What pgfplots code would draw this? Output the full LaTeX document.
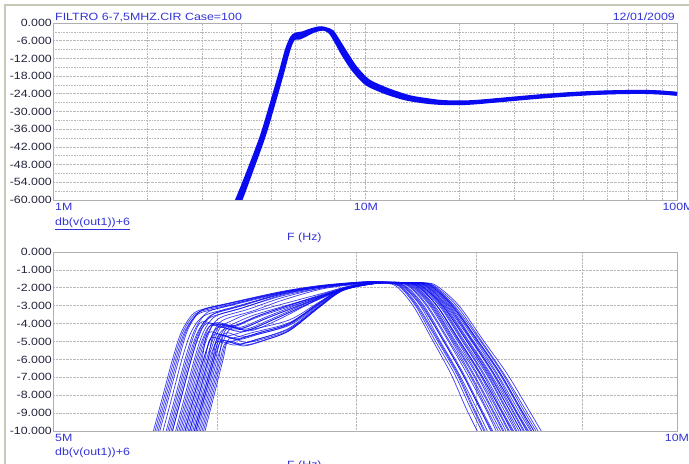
\documentclass[border=0pt]{standalone}
\usepackage{fontspec}
\setmainfont[FakeStretch=1.18]{Liberation Sans}
\usepackage{pgfplots}
\pgfplotsset{compat=1.18}

\definecolor{curveblue}{RGB}{10,10,240}
\definecolor{txtblue}{RGB}{50,50,215}
\definecolor{ticktxt}{RGB}{35,35,60}
\definecolor{gridgray}{RGB}{185,185,185}
\definecolor{framegray}{RGB}{175,175,175}
\definecolor{winedge}{RGB}{200,200,185}

\newcommand{\lbl}{\fontsize{10.5bp}{12bp}\selectfont}

\pgfplotsset{
  probe/.style={
    scale only axis,
    width=624bp,
    anchor=south west,
    axis line style={framegray, line width=0.6bp},
    major tick length=0pt, minor tick length=0pt,
    xticklabels={},
    grid style={gridgray, densely dotted, line width=0.6bp},
    minor grid style={gridgray, densely dotted, line width=0.6bp},
    yticklabel style={font=\lbl, text=ticktxt, anchor=east, inner sep=0pt, xshift=-1bp},
  },
  mc/.style={curveblue, line width=0.7bp, opacity=0.8, smooth, tension=0.5},
}

\begin{document}
\begin{tikzpicture}
\useasboundingbox (0,0) rectangle (689bp,464bp);
\draw[winedge, line width=1.2bp] (5bp,0) -- (5bp,459bp) -- (689bp,459bp);

% ---------- full sweep, 1 MHz .. 100 MHz ----------
\begin{axis}[xmode=log, probe,
  at={(53bp,264bp)}, height=177bp,
  xmin=1, xmax=100, ymin=-60, ymax=0,
  xtick={1,10,100},
  minor xtick={2,3,4,5,6,7,8,9,20,30,40,50,60,70,80,90},
  ytick={-60,-54,-48,-42,-36,-30,-24,-18,-12,-6,0},
  yticklabels={-60.000,-54.000,-48.000,-42.000,-36.000,-30.000,-24.000,-18.000,-12.000,-6.000,0.000},
  minor ytick={-57,-51,-45,-39,-33,-27,-21,-15,-9,-3},
  grid=both,
]
\addplot[curveblue, line width=3.8bp, smooth, tension=0.5] coordinates {
 (3.75,-63) (3.89,-60) (4.28,-49) (4.68,-38) (5.03,-27) (5.34,-17.5)
 (5.62,-9) (5.83,-5) (6.0,-3.9) (6.3,-3.5) (6.7,-2.5) (7.1,-1.8)
 (7.4,-1.9) (7.75,-3.2) (8.1,-6.5) (8.5,-10.5) (9.2,-16) (10.1,-20.5)
 (11.2,-22.8) (12.0,-24.0) (13.5,-25.6) (15.4,-26.6) (17.3,-27.1)
 (20,-27.2) (22.2,-27.0) (28.5,-26.0) (36.4,-25.0) (46.4,-24.2)
 (59.3,-23.6) (75.8,-23.4) (88,-23.6) (100,-24.0)};
\addplot[curveblue, line width=3.8bp, smooth, tension=0.5] coordinates {
 (3.85,-63) (3.99,-60) (4.36,-49) (4.75,-38) (5.10,-27) (5.41,-17.5)
 (5.69,-9) (5.90,-5.2) (6.15,-5.0) (6.4,-4.2) (6.8,-2.8) (7.2,-2.0)
 (7.5,-2.1) (7.85,-3.0) (8.2,-6.0) (8.6,-9.5) (9.3,-15) (10.2,-19.5)
 (11.4,-22) (12.5,-23.6) (14,-25.2) (16,-26.2) (18,-26.8) (22,-26.8)
 (28.5,-25.8) (36.4,-24.8) (46.4,-24.0) (59.3,-23.5) (75.8,-23.3)
 (88,-23.5) (100,-24.0)};
\end{axis}

% ---------- passband detail, 5 MHz .. 10 MHz ----------
\begin{axis}[xmode=log, probe,
  at={(53bp,33bp)}, height=179bp,
  xmin=5, xmax=10, ymin=-10, ymax=0,
  xtick={6,7,8,9},
  ytick={-10,-9,-8,-7,-6,-5,-4,-3,-2,-1,0},
  yticklabels={-10.000,-9.000,-8.000,-7.000,-6.000,-5.000,-4.000,-3.000,-2.000,-1.000,0.000},
  grid=major,
]
% sharp knee, flat top
\addplot[mc] coordinates {(5.59,-10)(5.65,-8)(5.71,-6)(5.76,-4.6)(5.81,-3.8)(5.87,-3.3)(6.04,-2.95)(6.45,-2.25)(6.75,-1.9)(7.1,-1.68)(7.27,-1.72)(7.39,-1.9)(7.54,-3.0)(7.71,-4.9)(7.88,-6.8)(8.03,-8.7)(8.13,-10)};
\addplot[mc] coordinates {(5.60,-10)(5.66,-8)(5.72,-6)(5.77,-4.6)(5.82,-3.82)(5.88,-3.35)(6.05,-3.0)(6.45,-2.27)(6.75,-1.9)(7.1,-1.68)(7.38,-1.72)(7.50,-1.9)(7.66,-3.0)(7.84,-4.9)(8.03,-6.8)(8.19,-8.7)(8.30,-10)};
\addplot[mc] coordinates {(5.61,-10)(5.67,-8)(5.73,-6)(5.78,-4.6)(5.83,-3.85)(5.89,-3.4)(6.06,-3.05)(6.45,-2.3)(6.75,-1.92)(7.1,-1.7)(7.36,-1.72)(7.48,-1.9)(7.64,-3.0)(7.83,-4.9)(8.01,-6.8)(8.18,-8.7)(8.29,-10)};
\addplot[mc] coordinates {(5.62,-10)(5.68,-8)(5.74,-6)(5.79,-4.55)(5.84,-3.75)(5.90,-3.25)(6.07,-2.9)(6.45,-2.22)(6.75,-1.87)(7.1,-1.66)(7.32,-1.72)(7.44,-1.9)(7.60,-3.0)(7.78,-4.9)(7.95,-6.8)(8.11,-8.7)(8.22,-10)};
\addplot[mc] coordinates {(5.63,-10)(5.69,-8)(5.75,-6)(5.80,-4.5)(5.85,-3.7)(5.91,-3.2)(6.08,-2.85)(6.45,-2.2)(6.75,-1.85)(7.1,-1.65)(7.20,-1.72)(7.32,-1.9)(7.46,-3.0)(7.62,-4.9)(7.78,-6.8)(7.91,-8.7)(8.01,-10)};
\addplot[mc] coordinates {(5.65,-10)(5.71,-8)(5.77,-6)(5.82,-4.65)(5.87,-3.9)(5.93,-3.5)(6.10,-3.1)(6.45,-2.35)(6.75,-1.95)(7.1,-1.7)(7.45,-1.72)(7.57,-1.9)(7.74,-3.0)(7.95,-4.9)(8.15,-6.8)(8.32,-8.7)(8.44,-10)};
\addplot[mc] coordinates {(5.67,-10)(5.73,-8)(5.79,-6)(5.84,-4.6)(5.89,-3.8)(5.95,-3.3)(6.12,-2.9)(6.45,-2.25)(6.75,-1.88)(7.1,-1.66)(7.33,-1.72)(7.45,-1.9)(7.61,-3.0)(7.79,-4.9)(7.97,-6.8)(8.13,-8.7)(8.24,-10)};
\addplot[mc] coordinates {(5.69,-10)(5.75,-8)(5.81,-6)(5.86,-4.7)(5.91,-3.95)(5.97,-3.6)(6.14,-3.2)(6.45,-2.45)(6.75,-2.0)(7.1,-1.72)(7.51,-1.72)(7.63,-1.9)(7.81,-3.0)(8.03,-4.9)(8.24,-6.8)(8.42,-8.7)(8.55,-10)};
\addplot[mc] coordinates {(5.70,-10)(5.76,-8)(5.82,-6)(5.87,-4.65)(5.92,-3.85)(5.98,-3.45)(6.15,-3.05)(6.45,-2.35)(6.75,-1.93)(7.1,-1.7)(7.45,-1.72)(7.57,-1.9)(7.75,-3.0)(7.96,-4.9)(8.16,-6.8)(8.34,-8.7)(8.47,-10)};
\addplot[mc] coordinates {(5.71,-10)(5.77,-8)(5.83,-6)(5.88,-4.6)(5.93,-3.85)(5.99,-3.4)(6.16,-3.0)(6.45,-2.3)(6.75,-1.9)(7.1,-1.68)(7.24,-1.72)(7.36,-1.9)(7.50,-3.0)(7.67,-4.9)(7.84,-6.8)(7.98,-8.7)(8.08,-10)};
\addplot[mc] coordinates {(5.73,-10)(5.79,-8)(5.85,-6)(5.90,-4.65)(5.95,-3.9)(6.01,-3.5)(6.18,-3.1)(6.45,-2.4)(6.75,-1.95)(7.1,-1.7)(7.41,-1.72)(7.53,-1.9)(7.70,-3.0)(7.89,-4.9)(8.09,-6.8)(8.26,-8.7)(8.37,-10)};
\addplot[mc] coordinates {(5.76,-10)(5.82,-8)(5.88,-6)(5.93,-4.7)(5.98,-3.95)(6.04,-3.6)(6.21,-3.2)(6.45,-2.55)(6.75,-2.0)(7.1,-1.72)(7.48,-1.72)(7.60,-1.9)(7.78,-3.0)(7.99,-4.9)(8.19,-6.8)(8.37,-8.7)(8.50,-10)};
\addplot[mc] coordinates {(5.79,-10)(5.85,-8)(5.91,-6)(5.96,-4.75)(6.01,-4.0)(6.07,-3.7)(6.24,-3.3)(6.45,-2.7)(6.75,-2.05)(7.1,-1.74)(7.30,-1.72)(7.42,-1.9)(7.57,-3.0)(7.75,-4.9)(7.92,-6.8)(8.08,-8.7)(8.18,-10)};
% knee near -4 dB with a shallow dip
\addplot[mc] coordinates {(5.68,-10)(5.74,-8)(5.80,-6)(5.85,-4.6)(5.90,-3.9)(6.03,-4.05)(6.23,-3.4)(6.75,-2.3)(6.95,-1.9)(7.15,-1.7)(7.39,-1.72)(7.51,-1.9)(7.68,-3.0)(7.87,-4.9)(8.06,-6.8)(8.22,-8.7)(8.34,-10)};
\addplot[mc] coordinates {(5.71,-10)(5.77,-8)(5.83,-6)(5.88,-4.7)(5.93,-4.0)(6.06,-4.15)(6.26,-3.5)(6.75,-2.4)(6.95,-1.95)(7.15,-1.72)(7.54,-1.72)(7.66,-1.9)(7.85,-3.0)(8.06,-4.9)(8.28,-6.8)(8.47,-8.7)(8.60,-10)};
\addplot[mc] coordinates {(5.74,-10)(5.80,-8)(5.86,-6)(5.91,-4.75)(5.96,-4.1)(6.09,-4.25)(6.29,-3.6)(6.75,-2.45)(6.95,-1.98)(7.15,-1.73)(7.22,-1.72)(7.34,-1.9)(7.48,-3.0)(7.64,-4.9)(7.81,-6.8)(7.95,-8.7)(8.05,-10)};
\addplot[mc] coordinates {(5.75,-10)(5.81,-8)(5.87,-6)(5.92,-4.7)(5.97,-4.0)(6.10,-4.15)(6.30,-3.5)(6.75,-2.4)(6.95,-1.95)(7.15,-1.72)(7.26,-1.72)(7.38,-1.9)(7.53,-3.0)(7.71,-4.9)(7.88,-6.8)(8.03,-8.7)(8.14,-10)};
\addplot[mc] coordinates {(5.77,-10)(5.83,-8)(5.89,-6)(5.94,-4.65)(5.99,-3.95)(6.12,-4.1)(6.32,-3.45)(6.75,-2.35)(6.95,-1.92)(7.15,-1.7)(7.43,-1.72)(7.55,-1.9)(7.72,-3.0)(7.92,-4.9)(8.12,-6.8)(8.29,-8.7)(8.41,-10)};
\addplot[mc] coordinates {(5.79,-10)(5.85,-8)(5.91,-6)(5.96,-4.8)(6.01,-4.2)(6.14,-4.35)(6.34,-3.7)(6.75,-2.5)(6.95,-2.0)(7.15,-1.74)(7.34,-1.72)(7.46,-1.9)(7.62,-3.0)(7.80,-4.9)(7.98,-6.8)(8.14,-8.7)(8.25,-10)};
\addplot[mc] coordinates {(5.81,-10)(5.87,-8)(5.93,-6)(5.98,-4.7)(6.03,-4.05)(6.16,-4.2)(6.36,-3.55)(6.75,-2.4)(6.95,-1.95)(7.15,-1.72)(7.49,-1.72)(7.61,-1.9)(7.79,-3.0)(8.00,-4.9)(8.21,-6.8)(8.39,-8.7)(8.51,-10)};
\addplot[mc] coordinates {(5.82,-10)(5.88,-8)(5.94,-6)(5.99,-4.75)(6.04,-4.1)(6.17,-4.25)(6.37,-3.6)(6.75,-2.45)(6.95,-1.97)(7.15,-1.73)(7.41,-1.72)(7.53,-1.9)(7.71,-3.0)(7.91,-4.9)(8.11,-6.8)(8.29,-8.7)(8.41,-10)};
\addplot[mc] coordinates {(5.83,-10)(5.89,-8)(5.95,-6)(6.00,-4.85)(6.05,-4.3)(6.18,-4.45)(6.38,-3.8)(6.75,-2.55)(6.95,-2.02)(7.15,-1.75)(7.28,-1.72)(7.40,-1.9)(7.55,-3.0)(7.72,-4.9)(7.89,-6.8)(8.04,-8.7)(8.15,-10)};
\addplot[mc] coordinates {(5.85,-10)(5.91,-8)(5.97,-6)(6.02,-4.75)(6.07,-4.15)(6.20,-4.3)(6.40,-3.65)(6.75,-2.45)(6.95,-1.97)(7.15,-1.73)(7.46,-1.72)(7.58,-1.9)(7.76,-3.0)(7.96,-4.9)(8.16,-6.8)(8.34,-8.7)(8.46,-10)};
\addplot[mc] coordinates {(5.86,-10)(5.92,-8)(5.98,-6)(6.03,-4.8)(6.08,-4.2)(6.21,-4.35)(6.41,-3.7)(6.75,-2.5)(6.95,-2.0)(7.15,-1.74)(7.23,-1.72)(7.35,-1.9)(7.49,-3.0)(7.66,-4.9)(7.83,-6.8)(7.97,-8.7)(8.07,-10)};
\addplot[mc] coordinates {(5.88,-10)(5.94,-8)(6.00,-6)(6.05,-4.8)(6.10,-4.25)(6.23,-4.4)(6.43,-3.75)(6.75,-2.5)(6.95,-2.0)(7.15,-1.74)(7.38,-1.72)(7.50,-1.9)(7.66,-3.0)(7.85,-4.9)(8.04,-6.8)(8.21,-8.7)(8.32,-10)};
% low knee, dip towards -5 dB
\addplot[mc] coordinates {(5.78,-10)(5.84,-8)(5.90,-6)(5.94,-4.5)(6.06,-4.7)(6.20,-4.4)(6.5,-3.8)(6.72,-2.8)(6.9,-2.05)(7.15,-1.74)(7.52,-1.72)(7.64,-1.9)(7.83,-3.0)(8.04,-4.9)(8.25,-6.8)(8.44,-8.7)(8.57,-10)};
\addplot[mc] coordinates {(5.80,-10)(5.86,-8)(5.92,-6)(5.96,-4.8)(6.08,-5.0)(6.22,-4.7)(6.5,-4.1)(6.72,-2.95)(6.9,-2.1)(7.15,-1.75)(7.25,-1.72)(7.37,-1.9)(7.52,-3.0)(7.68,-4.9)(7.85,-6.8)(8.00,-8.7)(8.10,-10)};
\addplot[mc] coordinates {(5.82,-10)(5.88,-8)(5.94,-6)(5.98,-4.6)(6.10,-4.8)(6.24,-4.5)(6.5,-3.95)(6.72,-2.85)(6.9,-2.05)(7.15,-1.74)(7.42,-1.72)(7.54,-1.9)(7.71,-3.0)(7.91,-4.9)(8.10,-6.8)(8.27,-8.7)(8.39,-10)};
\addplot[mc] coordinates {(5.84,-10)(5.90,-8)(5.96,-6)(6.00,-5.0)(6.12,-5.2)(6.26,-4.9)(6.5,-4.3)(6.72,-3.05)(6.9,-2.15)(7.15,-1.76)(7.35,-1.72)(7.47,-1.9)(7.63,-3.0)(7.81,-4.9)(8.00,-6.8)(8.16,-8.7)(8.27,-10)};
\addplot[mc] coordinates {(5.85,-10)(5.91,-8)(5.97,-6)(6.01,-4.65)(6.13,-4.85)(6.27,-4.55)(6.5,-4.0)(6.72,-2.88)(6.9,-2.07)(7.15,-1.75)(7.49,-1.72)(7.61,-1.9)(7.79,-3.0)(8.01,-4.9)(8.22,-6.8)(8.40,-8.7)(8.53,-10)};
\addplot[mc] coordinates {(5.86,-10)(5.92,-8)(5.98,-6)(6.02,-4.7)(6.14,-4.9)(6.28,-4.6)(6.5,-4.05)(6.72,-2.9)(6.9,-2.08)(7.15,-1.75)(7.50,-1.72)(7.62,-1.9)(7.80,-3.0)(8.01,-4.9)(8.22,-6.8)(8.40,-8.7)(8.53,-10)};
\addplot[mc] coordinates {(5.87,-10)(5.93,-8)(5.99,-6)(6.03,-4.95)(6.15,-5.15)(6.29,-4.85)(6.5,-4.25)(6.72,-3.0)(6.9,-2.12)(7.15,-1.76)(7.31,-1.72)(7.43,-1.9)(7.58,-3.0)(7.76,-4.9)(7.94,-6.8)(8.09,-8.7)(8.20,-10)};
\addplot[mc] coordinates {(5.89,-10)(5.95,-8)(6.01,-6)(6.05,-4.55)(6.17,-4.75)(6.31,-4.45)(6.5,-4.0)(6.72,-2.85)(6.9,-2.05)(7.15,-1.74)(7.44,-1.72)(7.56,-1.9)(7.73,-3.0)(7.93,-4.9)(8.13,-6.8)(8.31,-8.7)(8.43,-10)};
\addplot[mc] coordinates {(5.90,-10)(5.96,-8)(6.02,-6)(6.06,-5.05)(6.18,-5.25)(6.32,-4.95)(6.5,-4.4)(6.72,-3.1)(6.9,-2.15)(7.15,-1.77)(7.40,-1.72)(7.52,-1.9)(7.69,-3.0)(7.88,-4.9)(8.07,-6.8)(8.24,-8.7)(8.36,-10)};
\addplot[mc] coordinates {(5.91,-10)(5.97,-8)(6.03,-6)(6.07,-5.0)(6.19,-5.2)(6.33,-4.9)(6.5,-4.4)(6.72,-3.08)(6.9,-2.14)(7.15,-1.76)(7.37,-1.72)(7.49,-1.9)(7.66,-3.0)(7.85,-4.9)(8.04,-6.8)(8.21,-8.7)(8.33,-10)};
\addplot[mc] coordinates {(5.92,-10)(5.98,-8)(6.04,-6)(6.08,-4.85)(6.20,-5.05)(6.34,-4.8)(6.5,-4.35)(6.72,-3.05)(6.9,-2.12)(7.15,-1.76)(7.47,-1.72)(7.59,-1.9)(7.77,-3.0)(7.97,-4.9)(8.18,-6.8)(8.35,-8.7)(8.48,-10)};
\end{axis}

% ---------- header, frequency labels and trace names ----------
\begin{scope}[every node/.style={font=\lbl, inner sep=0pt}]
\node[anchor=base west, text=txtblue] at (55bp,443.3bp) {FILTRO 6-7,5MHZ.CIR Case=100};
\node[anchor=base east, text=txtblue] at (675bp,443.3bp) {12/01/2009};
\node[anchor=base west, text=txtblue] at (55bp,253.3bp) {1M};
\node[anchor=base, text=txtblue] at (366bp,253.3bp) {10M};
\node[anchor=base, text=txtblue] at (678bp,253.3bp) {100M};
\node[anchor=base west, text=txtblue] at (55bp,238.7bp) {\underline{db(v(out1))+6}};
\node[anchor=base west, text=txtblue] at (287bp,223bp) {F (Hz)};
\node[anchor=base west, text=txtblue] at (55bp,22.3bp) {5M};
\node[anchor=base, text=txtblue] at (677bp,22.3bp) {10M};
\node[anchor=base west, text=txtblue] at (55bp,8.5bp) {db(v(out1))+6};
\node[anchor=base west, text=txtblue] at (287bp,-4bp) {F (Hz)};
\end{scope}
\end{tikzpicture}
\end{document}
